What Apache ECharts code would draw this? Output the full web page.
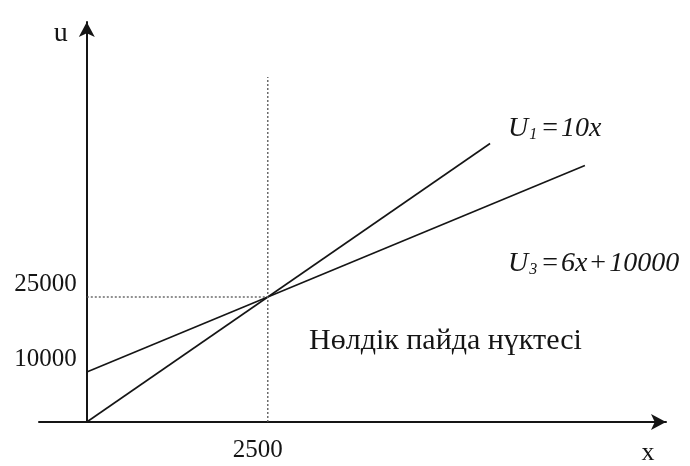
<!DOCTYPE html>
<html>
<head>
<meta charset="utf-8">
<script src="https://cdn.jsdelivr.net/npm/echarts@6/dist/echarts.min.js"></script>
<style>
  html, body { margin: 0; padding: 0; background: #fff; }
  #chart { width: 690px; height: 466px; }
</style>
</head>
<body>
<div id="chart"></div>
<script>
// Break-even chart: U1 = 10x (revenue) and U3 = 6x + 10000 (costs)
const xRange = [-660, 8000];
const yRange = [0, 80000];
const xTicks = [2500];
const yTicks = [10000, 25000];

const revenueX = [0, 5570];
const revenueU = [0, 55700];
const costX = [0, 6880];
const costU = [10000, 51280];

const breakEvenX = 2500;
const breakEvenU = 25000;
const guideTopU = 69000;

const serif = '"Liberation Serif", "DejaVu Serif", serif';
const ink = '#151515';

const gridLeft = 39, gridRight = 24, chartWidth = 690;
// pixel distance from the grid's left edge to x = 0, so the u axis sits on the origin
const originShift = (0 - xRange[0]) / (xRange[1] - xRange[0]) * (chartWidth - gridLeft - gridRight);

const pairs = (xs, ys) => xs.map((x, i) => [x, ys[i]]);

// italic formula with a subscript index and spaced operators
function eqLabel(sub, parts) {
  return '{u|U}{s|' + sub + '}' + parts.map(p => (p === '=' || p === '+') ? '{op|' + p + '}' : '{u|' + p + '}').join('');
}
const eqBase = { fontFamily: serif, fontStyle: 'italic', fontSize: 28, color: ink, lineHeight: 28, verticalAlign: 'bottom' };
const eqRich = {
  u: eqBase,
  op: Object.assign({}, eqBase, { fontStyle: 'normal', padding: [0, 3, 0, 3] }),
  s: { fontFamily: serif, fontStyle: 'italic', fontSize: 16, color: ink, lineHeight: 22, verticalAlign: 'bottom', padding: [0, 2, 0, 1] }
};

const chart = echarts.init(document.getElementById('chart'));
chart.setOption({
  animation: false,
  backgroundColor: '#fff',
  grid: { left: gridLeft, right: gridRight, top: 22, bottom: 44, outerBoundsMode: 'none', containLabel: false },
  xAxis: {
    type: 'value',
    min: xRange[0],
    max: xRange[1],
    name: 'x',
    nameLocation: 'end',
    nameGap: -18,
    nameTextStyle: { fontFamily: serif, fontSize: 26, color: ink, align: 'center', verticalAlign: 'top', padding: [18, 0, 0, 0] },
    splitLine: { show: false },
    axisTick: { show: false },
    axisLine: { lineStyle: { color: ink, width: 2 }, symbol: ['none', 'arrow'], symbolSize: [12, 15] },
    axisLabel: { customValues: xTicks, formatter: v => String(v), fontFamily: serif, fontSize: 25, color: ink, margin: 16, padding: [0, 20, 0, 0] }
  },
  yAxis: {
    type: 'value',
    min: yRange[0],
    max: yRange[1],
    offset: -originShift,
    name: 'u',
    nameLocation: 'end',
    nameGap: -12,
    nameTextStyle: { fontFamily: serif, fontSize: 28, color: ink, align: 'right', verticalAlign: 'middle', padding: [0, 19, 0, 0] },
    splitLine: { show: false },
    axisTick: { show: false },
    axisLine: { onZero: false, lineStyle: { color: ink, width: 2 }, symbol: ['none', 'arrow'], symbolSize: [12, 15] },
    axisLabel: { customValues: yTicks, formatter: v => String(v), fontFamily: serif, fontSize: 25, color: ink, margin: 10, verticalAlign: 'bottom' }
  },
  series: [
    {
      name: 'U1',
      type: 'line',
      data: pairs(revenueX, revenueU),
      showSymbol: false,
      lineStyle: { color: ink, width: 1.6 },
      endLabel: { show: true, distance: 0, offset: [18, -15], formatter: eqLabel('1', ['=', '10x']), rich: eqRich }
    },
    {
      name: 'U3',
      type: 'line',
      data: pairs(costX, costU),
      showSymbol: false,
      lineStyle: { color: ink, width: 1.6 },
      endLabel: { show: true, distance: 0, offset: [-77, 98], formatter: eqLabel('3', ['=', '6x', '+', '10000']), rich: eqRich }
    },
    {
      name: 'guide-x',
      type: 'line',
      data: [[breakEvenX, 0], [breakEvenX, guideTopU]],
      showSymbol: false,
      lineStyle: { color: '#555', width: 1.3, type: [2, 2] }
    },
    {
      name: 'guide-u',
      type: 'line',
      data: [[0, breakEvenU], [breakEvenX, breakEvenU]],
      showSymbol: false,
      lineStyle: { color: '#555', width: 1.3, type: [2, 2] }
    }
  ],
  graphic: [
    {
      type: 'text',
      left: 309,
      top: 326,
      style: { text: 'Нөлдік пайда нүктесі', font: '30px ' + serif, fill: ink }
    }
  ]
});
</script>
</body>
</html>
